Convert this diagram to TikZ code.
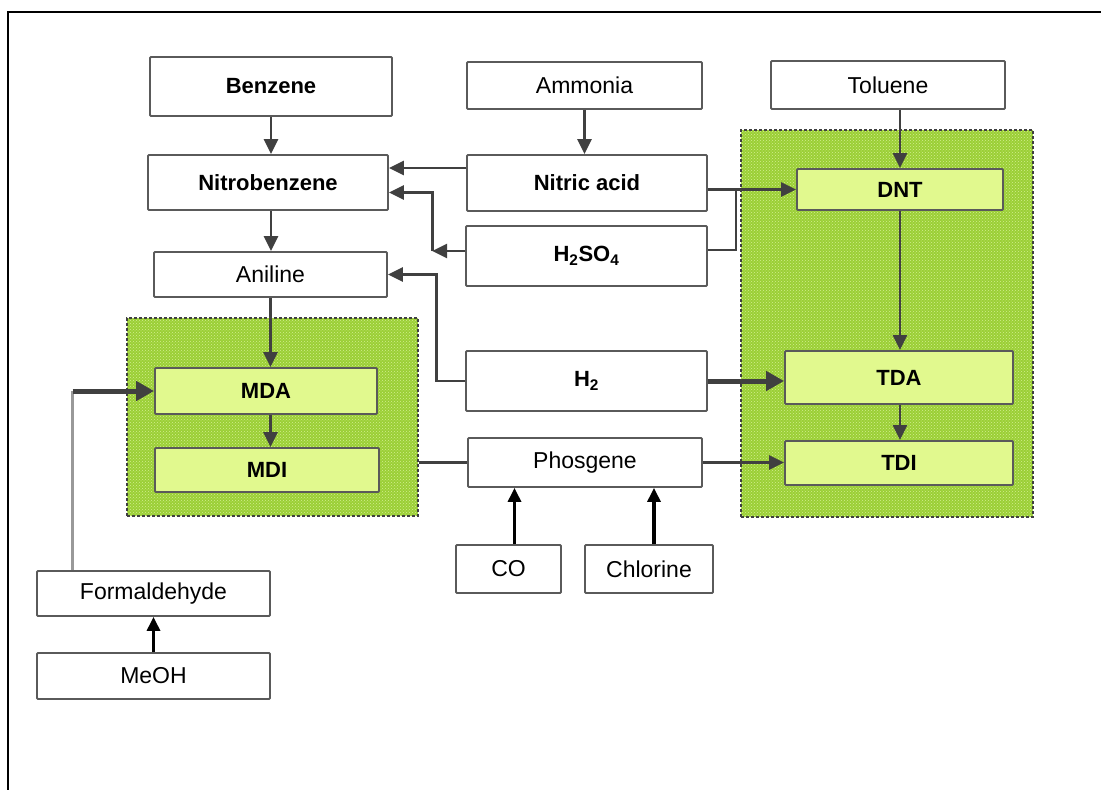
\documentclass[tikz,border=0pt]{standalone}
\usepackage{fontspec}
\setmainfont{Liberation Sans}
\usetikzlibrary{arrows.meta,calc,patterns}
\definecolor{boxgray}{HTML}{5A5A5A}
\definecolor{linegray}{HTML}{404040}
\definecolor{thingray}{HTML}{999999}
\definecolor{regiongreen}{HTML}{9BCF36}
\definecolor{regiondots}{HTML}{D2EE90}
\definecolor{innergreen}{HTML}{E1F98E}
\begin{document}
\begin{tikzpicture}[x=1pt,y=-1pt,
  box/.style={draw=boxgray, line width=1.8pt, fill=white, inner sep=0pt, rounded corners=1pt,
              font=\fontsize{23}{27}\selectfont},
  bbox/.style={box, font=\fontsize{22}{26}\selectfont\bfseries},
  gbox/.style={bbox, fill=innergreen},
  region/.style={draw=linegray, line width=1.8pt, dash pattern=on 3pt off 2pt,
                 preaction={fill=regiongreen}, pattern=crosshatch dots, pattern color=regiondots, inner sep=0pt},
  arr/.style={draw=linegray, line width=2.8pt, -{Triangle[length=15pt,width=14pt]}},
  conn/.style={draw=linegray, line width=2.8pt},
  barr/.style={draw=black, line width=3.2pt, -{Triangle[length=14pt,width=13pt]}},
  tarr/.style={draw=linegray, line width=5pt, -{Triangle[length=18pt,width=19pt]}},
  thinl/.style={draw=thingray, line width=2.2pt}
]
\useasboundingbox (0,0) rectangle (1101,790);
\draw[line width=2.5pt] (8,790) -- (8,12) -- (1101,12);

% green regions
\node[region, minimum width=291pt, minimum height=198pt] (lreg) at (272.5,417) {};
\node[region, minimum width=292pt, minimum height=387pt] (rreg) at (887,323.5) {};

% boxes
\node[bbox, minimum width=242pt, minimum height=59pt] (Benzene) at (271,86.5) {Benzene};
\node[bbox, minimum width=240pt, minimum height=55pt] (Nitro) at (268,182.5) {Nitrobenzene};
\node[box, minimum width=233pt, minimum height=45pt] (Aniline) at (270.5,274.5) {Aniline};
\node[box, minimum width=235pt, minimum height=47pt] (Ammonia) at (584.5,85.5) {Ammonia};
\node[box, minimum width=234pt, minimum height=48pt] (Toluene) at (888,85) {Toluene};
\node[bbox, minimum width=240pt, minimum height=56pt] (NA) at (587,183) {Nitric acid};
\node[bbox, minimum width=241pt, minimum height=60pt] (HSO) at (586.5,256) {H\textsubscript{2}SO\textsubscript{4}};
\node[bbox, minimum width=241pt, minimum height=60pt] (H2) at (586.5,381) {H\textsubscript{2}};
\node[gbox, minimum width=222pt, minimum height=46pt] (MDA) at (266,391) {MDA};
\node[gbox, minimum width=224pt, minimum height=44pt] (MDI) at (267,470) {MDI};
\node[box, minimum width=233pt, minimum height=45pt] (Form) at (153.5,593.5) {Formaldehyde};
\node[box, minimum width=233pt, minimum height=46pt] (MeOH) at (153.5,676) {MeOH};
\node[gbox, minimum width=206pt, minimum height=41pt] (DNT) at (900,189.5) {DNT};
\node[gbox, minimum width=228pt, minimum height=53pt] (TDA) at (899,377.5) {TDA};
\node[gbox, minimum width=228pt, minimum height=44pt] (TDI) at (899,463) {TDI};
\node[box, minimum width=234pt, minimum height=49pt] (Phos) at (585,462.5) {Phosgene};
\node[box, minimum width=105pt, minimum height=48pt] (CO) at (508.5,569) {CO};
\node[box, minimum width=128pt, minimum height=48pt] (Chlor) at (649,569) {Chlorine};

% vertical chains
\draw[arr] (Benzene.south) -- (Benzene.south |- Nitro.north);
\draw[arr] (Benzene.south |- Nitro.south) -- (Benzene.south |- Aniline.north);
\draw[arr] (Aniline.south) -- (Aniline.south |- MDA.north);
\draw[arr] (Aniline.south |- MDA.south) -- (Aniline.south |- MDI.north);
\draw[arr] (Ammonia.south) -- (Ammonia.south |- NA.north);
\draw[arr] (DNT.north |- Toluene.south) -- (DNT.north);
\draw[arr] (DNT.south) -- (DNT.south |- TDA.north);
\draw[arr] (DNT.south |- TDA.south) -- (DNT.south |- TDI.north);

% nitric acid / sulfuric acid to nitrobenzene
\coordinate (na1) at ($(NA.west)+(0,-15)$);
\draw[arr] (na1) -- (na1 -| Nitro.east);
\coordinate (hs1) at ($(HSO.west)+(0,-5)$);
\coordinate (hs2) at ($(hs1)+(-33,0)$);
\draw[arr] (hs1) -- (hs2);
\coordinate (nb2) at ($(Nitro.east)+(0,10)$);
\draw[arr] (hs2) -- (hs2 |- nb2) -- (nb2);

% hydrogen to aniline
\coordinate (h2a) at ($(H2.west)+(-29,0)$);
\draw[arr] (H2.west) -- (h2a) -- (h2a |- Aniline.east) -- (Aniline.east);

% nitric acid / sulfuric acid to DNT
\draw[arr] (NA.east |- DNT.west) -- (DNT.west);
\coordinate (hs3) at ($(HSO.east)+(0,-6)$);
\coordinate (hs4) at ($(hs3)+(28,0)$);
\draw[conn] (hs3) -- (hs4) -- (hs4 |- DNT.west);

% hydrogen to TDA
\draw[tarr] (H2.east) -- (H2.east -| TDA.west);

% phosgene
\draw[conn] (lreg.east |- Phos.west) -- (Phos.west);
\draw[arr] (Phos.east) -- (Phos.east -| TDI.west);
\coordinate (co1) at ($(CO.north)+(6,0)$);
\draw[barr] (co1) -- (co1 |- Phos.south);
\coordinate (cl1) at ($(Chlor.north)+(5,0)$);
\draw[barr] (cl1) -- (cl1 |- Phos.south);

% methanol / formaldehyde
\draw[barr] (MeOH.north) -- (Form.south);
\coordinate (f1) at ($(Form.north)+(-81,0)$);
\draw[thinl] (f1) -- (f1 |- MDA.west);
\draw[tarr] (f1 |- MDA.west) -- (MDA.west);
\end{tikzpicture}
\end{document}
